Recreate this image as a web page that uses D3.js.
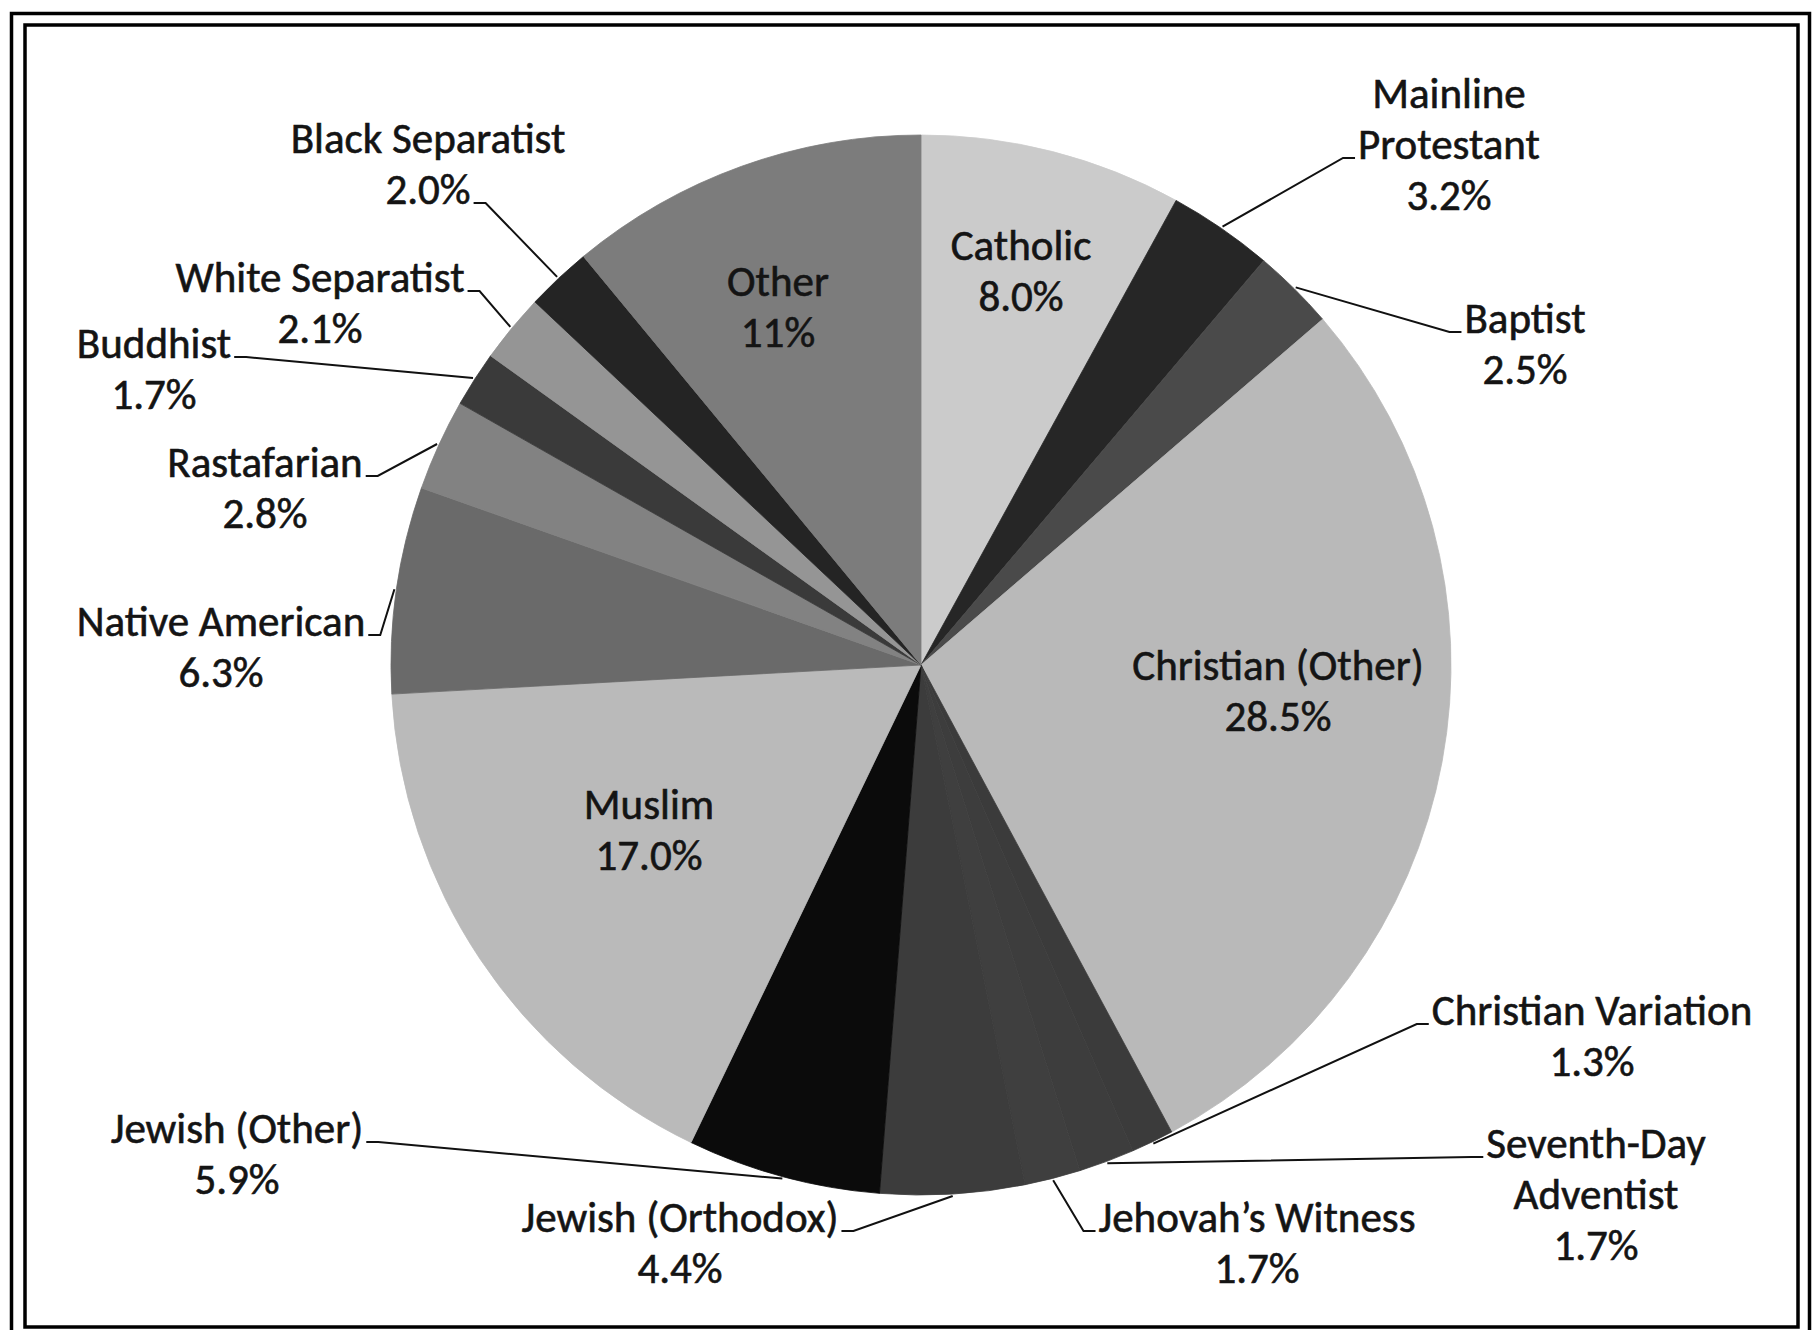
<!DOCTYPE html>
<html>
<head>
<meta charset="utf-8">
<script src="https://cdn.jsdelivr.net/npm/d3@7"></script>
<style>
  html, body { margin: 0; padding: 0; background: #fff; }
  svg { display: block; }
  text { font-family: "Carlito", "Calibri", "Open Sans", sans-serif; fill: #141414; stroke: #141414; stroke-width: 0.6px; }
</style>
</head>
<body>
<svg id="chart"></svg>
<script>
// slices, clockwise from 12 o'clock
const categories = [
  "Catholic", "Mainline Protestant", "Baptist", "Christian (Other)",
  "Christian Variation", "Seventh-Day Adventist", "Jehovah's Witness",
  "Jewish (Orthodox)", "Jewish (Other)", "Muslim", "Native American",
  "Rastafarian", "Buddhist", "White Separatist", "Black Separatist", "Other"
];
const values = [8.0, 3.2, 2.5, 28.5, 1.3, 1.7, 1.7, 4.4, 5.9, 17.0, 6.3, 2.8, 1.7, 2.1, 2.0, 11];
const valueLabels = ["8.0%", "3.2%", "2.5%", "28.5%", "1.3%", "1.7%", "1.7%", "4.4%",
  "5.9%", "17.0%", "6.3%", "2.8%", "1.7%", "2.1%", "2.0%", "11%"];
const nameLines = [
  ["Catholic"], ["Mainline", "Protestant"], ["Baptist"], ["Christian (Other)"],
  ["Christian Variation"], ["Seventh-Day", "Adventist"], ["Jehovah\u2019s Witness"],
  ["Jewish (Orthodox)"], ["Jewish (Other)"], ["Muslim"], ["Native American"],
  ["Rastafarian"], ["Buddhist"], ["White Separatist"], ["Black Separatist"], ["Other"]
];

// grey shades of the scanned print
const shades = ["#cbcbcb", "#262626", "#4a4a4a", "#b9b9b9", "#3b3b3b", "#3d3d3d", "#3f3f3f",
  "#3c3c3c", "#0b0b0b", "#bababa", "#6a6a6a", "#828282", "#3a3a3a", "#959595", "#242424", "#7c7c7c"];

// label placement: centre x, first baseline y, leader (line index, side) or null
const labelLayout = [
  { x: 1021, y: 260, leader: null },
  { x: 1449, y: 108, leader: { line: 1, side: "left" } },
  { x: 1525, y: 333, leader: { line: 0, side: "left" } },
  { x: 1278, y: 680, leader: null },
  { x: 1592, y: 1025, leader: { line: 0, side: "left" } },
  { x: 1596, y: 1158, leader: { line: 0, side: "left" } },
  { x: 1257, y: 1232, leader: { line: 0, side: "left" } },
  { x: 680, y: 1232, leader: { line: 0, side: "right" } },
  { x: 237, y: 1143, leader: { line: 0, side: "right" } },
  { x: 649, y: 819, leader: null },
  { x: 221, y: 636, leader: { line: 0, side: "right" } },
  { x: 265, y: 477, leader: { line: 0, side: "right" } },
  { x: 154, y: 358, leader: { line: 0, side: "right" } },
  { x: 320, y: 292, leader: { line: 0, side: "right" } },
  { x: 428, y: 153, leader: { line: 1, side: "right" } },
  { x: 778, y: 296, leader: null }
];

const width = 1814, height = 1330;
const cx = 921, cy = 665, radius = 530;
const lineGap = 51;

const svg = d3.select("#chart")
  .attr("width", width)
  .attr("height", height);

// double frame
svg.append("rect")
  .attr("x", 11.5).attr("y", 13.5)
  .attr("width", 1798).attr("height", 1330)
  .attr("fill", "none").attr("stroke", "#000").attr("stroke-width", 3.5);
svg.append("rect")
  .attr("x", 25).attr("y", 25)
  .attr("width", 1773).attr("height", 1302)
  .attr("fill", "none").attr("stroke", "#000").attr("stroke-width", 3.5);

const color = d3.scaleOrdinal(categories, shades);

const pie = d3.pie().sort(null).value(d => d.value);
const rows = categories.map((c, i) => ({
  name: c, value: values[i], text: valueLabels[i], lines: nameLines[i], layout: labelLayout[i]
}));
const arcs = pie(rows);

const arc = d3.arc().innerRadius(0).outerRadius(radius);
const edge = d3.arc().innerRadius(radius + 2).outerRadius(radius + 2);

const g = svg.append("g").attr("transform", `translate(${cx},${cy})`);

g.selectAll("path.slice")
  .data(arcs)
  .enter()
  .append("path")
  .attr("class", "slice")
  .attr("d", arc)
  .attr("fill", d => color(d.data.name))
  .attr("stroke", d => color(d.data.name))
  .attr("stroke-width", 0.8);

// labels
const labels = svg.selectAll("g.label")
  .data(arcs)
  .enter()
  .append("g")
  .attr("class", "label");

labels.each(function(d) {
  const sel = d3.select(this);
  const L = d.data.layout;
  const allLines = d.data.lines.concat([d.data.text]);
  const nodes = allLines.map((t, k) =>
    sel.append("text")
      .attr("x", L.x)
      .attr("y", L.y + k * lineGap)
      .attr("text-anchor", "middle")
      .attr("font-size", 43)
      .text(t)
      .node()
  );

  if (L.leader) {
    const node = nodes[L.leader.line];
    const w = node.getComputedTextLength();
    const ly = L.y + L.leader.line * lineGap - 1;
    const sx = L.leader.side === "left" ? L.x - w / 2 - 3 : L.x + w / 2 + 3;
    const hx = L.leader.side === "left" ? sx - 12 : sx + 12;
    const p = edge.centroid(d);
    svg.append("path")
      .attr("d", `M${sx},${ly}L${hx},${ly}L${cx + p[0]},${cy + p[1]}`)
      .attr("fill", "none")
      .attr("stroke", "#111")
      .attr("stroke-width", 2);
  }
});
</script>
</body>
</html>
